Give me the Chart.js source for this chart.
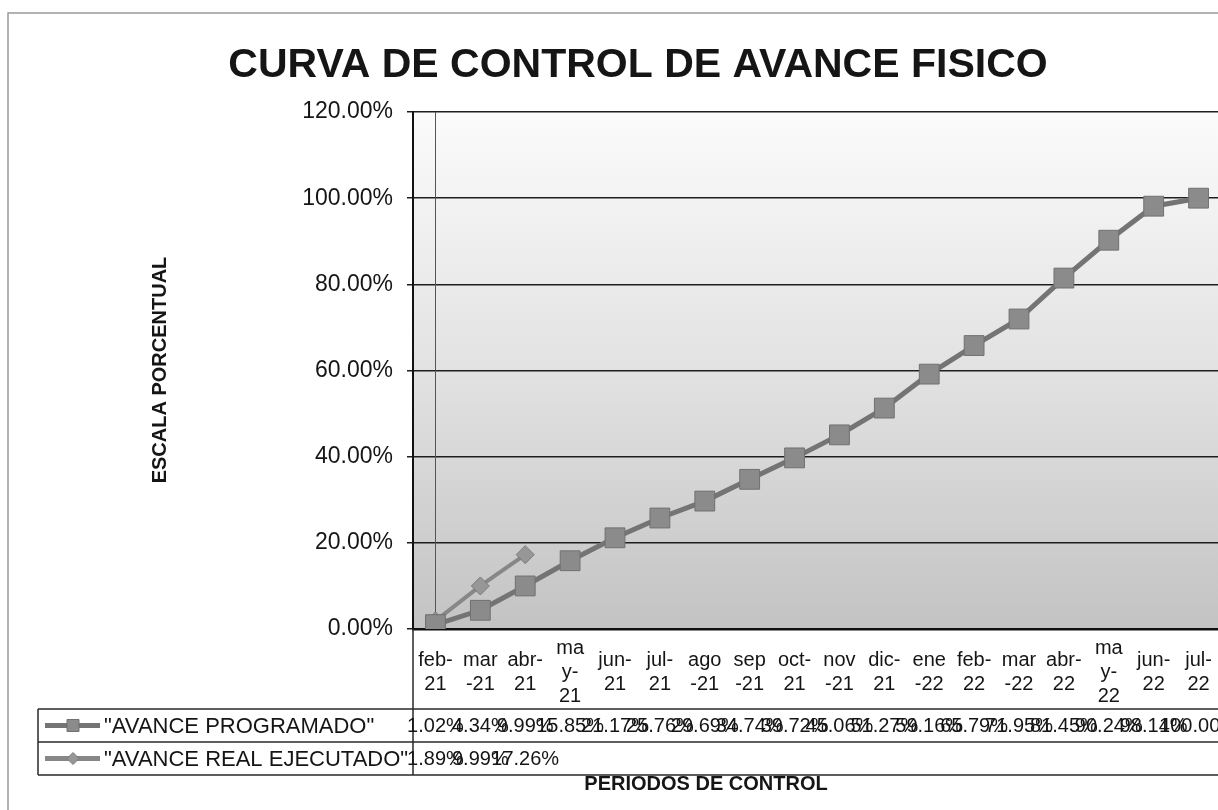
<!DOCTYPE html>
<html>
<head>
<meta charset="utf-8">
<title>Curva de control de avance fisico</title>
<script src="https://cdn.jsdelivr.net/npm/chart.js@4.4.1/dist/chart.umd.min.js"></script>
<style>
  html, body { margin: 0; padding: 0; background: #fff; overflow: hidden; }
  #wrap { width: 1218px; height: 810px; overflow: hidden; }
  canvas { display: block; }
</style>
</head>
<body>
<div id="wrap"><canvas id="avanceChart" width="1240" height="810"></canvas></div>
<script>
const periodos = [
  ["feb-", "21"], ["mar", "-21"], ["abr-", "21"], ["ma", "y-", "21"], ["jun-", "21"], ["jul-", "21"],
  ["ago", "-21"], ["sep", "-21"], ["oct-", "21"], ["nov", "-21"], ["dic-", "21"], ["ene", "-22"],
  ["feb-", "22"], ["mar", "-22"], ["abr-", "22"], ["ma", "y-", "22"], ["jun-", "22"], ["jul-", "22"]
];
const avanceProgramado = [1.02, 4.34, 9.99, 15.85, 21.17, 25.76, 29.69, 34.74, 39.72, 45.06, 51.27, 59.16, 65.79, 71.95, 81.45, 90.24, 98.14, 100.00];
const avanceReal = [1.89, 9.99, 17.26];
const yTicks = [0, 20, 40, 60, 80, 100, 120];

const serieNames = ['"AVANCE PROGRAMADO"', '"AVANCE REAL EJECUTADO"'];
const FONT = "'Liberation Sans', Arial, sans-serif";
const INK = "#151515";

function pct(v) {
  return v.toFixed(2) + "%";
}

// table under the plot, titles and the sheet frame
const sheetPlugin = {
  id: "sheet",
  beforeDraw(chart) {
    const { ctx, chartArea: a } = chart;
    ctx.save();
    ctx.strokeStyle = "#9a9a9a";
    ctx.lineWidth = 1.5;
    ctx.beginPath();
    ctx.moveTo(8, 810);
    ctx.lineTo(8, 13);
    ctx.lineTo(1240, 13);
    ctx.stroke();

    const g = ctx.createLinearGradient(0, a.top, 0, a.bottom);
    g.addColorStop(0, "#fbfbfb");
    g.addColorStop(0.5, "#e2e2e2");
    g.addColorStop(1, "#c3c3c3");
    ctx.fillStyle = g;
    ctx.fillRect(a.left, a.top, a.right - a.left, a.bottom - a.top);
    ctx.restore();
  },
  beforeDatasetsDraw(chart) {
    const { ctx, chartArea: a, scales } = chart;
    const x0 = Math.round(scales.x.getPixelForValue(0)) + 0.5;
    ctx.save();
    ctx.strokeStyle = "#555";
    ctx.lineWidth = 1;
    ctx.beginPath();
    ctx.moveTo(x0, a.top);
    ctx.lineTo(x0, a.bottom);
    ctx.stroke();
    ctx.restore();
  },
  afterDraw(chart) {
    const { ctx, chartArea: a, scales } = chart;
    ctx.save();

    ctx.fillStyle = INK;
    ctx.textAlign = "center";
    ctx.textBaseline = "middle";
    ctx.font = "bold 41px " + FONT;
    ctx.fillText("CURVA DE CONTROL DE AVANCE FISICO", 638, 66);

    ctx.save();
    ctx.translate(160, 370);
    ctx.rotate(-Math.PI / 2);
    ctx.font = "bold 20px " + FONT;
    ctx.fillText("ESCALA PORCENTUAL", 0, 0);
    ctx.restore();

    // data table
    const rows = [709, 742, 775];
    ctx.strokeStyle = "#2a2a2a";
    ctx.lineWidth = 1.5;
    ctx.beginPath();
    rows.forEach((y) => {
      ctx.moveTo(38, y);
      ctx.lineTo(1240, y);
    });
    ctx.moveTo(38, rows[0]);
    ctx.lineTo(38, rows[2]);
    ctx.moveTo(a.left, a.bottom);
    ctx.lineTo(a.left, rows[2]);
    ctx.stroke();

    const series = [avanceProgramado, avanceReal];
    series.forEach((values, r) => {
      const cy = (rows[r] + rows[r + 1]) / 2;
      const ds = chart.data.datasets[r];

      ctx.strokeStyle = ds.borderColor;
      ctx.lineWidth = 5;
      ctx.beginPath();
      ctx.moveTo(45, cy);
      ctx.lineTo(100, cy);
      ctx.stroke();

      ctx.fillStyle = ds.pointBackgroundColor;
      ctx.strokeStyle = ds.pointBorderColor;
      ctx.lineWidth = 1;
      ctx.beginPath();
      if (r === 0) {
        ctx.rect(67, cy - 6, 12, 12);
      } else {
        ctx.moveTo(73, cy - 6);
        ctx.lineTo(79, cy);
        ctx.lineTo(73, cy + 6);
        ctx.lineTo(67, cy);
        ctx.closePath();
      }
      ctx.fill();
      ctx.stroke();

      ctx.fillStyle = INK;
      ctx.font = "22px " + FONT;
      ctx.textAlign = "left";
      ctx.fillText(serieNames[r], 104, cy + 1);

      ctx.font = "20px " + FONT;
      ctx.textAlign = "center";
      values.forEach((v, i) => {
        ctx.fillText(pct(v), scales.x.getPixelForValue(i), cy + 1);
      });
    });

    ctx.font = "bold 20px " + FONT;
    ctx.textAlign = "center";
    ctx.fillText("PERIODOS DE CONTROL", 706, 784);

    ctx.restore();
  }
};

const ctx = document.getElementById("avanceChart").getContext("2d");

new Chart(ctx, {
  type: "line",
  data: {
    labels: periodos,
    datasets: [
      {
        label: serieNames[0],
        data: avanceProgramado,
        borderColor: "#747474",
        borderWidth: 5,
        pointStyle: "rect",
        pointRadius: 14,
        pointBackgroundColor: "#8b8b8b",
        pointBorderColor: "#707070",
        pointBorderWidth: 1,
        tension: 0
      },
      {
        label: serieNames[1],
        data: avanceReal,
        borderColor: "#878787",
        borderWidth: 4,
        pointStyle: "rectRot",
        pointRadius: 9,
        pointBackgroundColor: "#979797",
        pointBorderColor: "#7a7a7a",
        pointBorderWidth: 1,
        tension: 0
      }
    ]
  },
  options: {
    responsive: false,
    devicePixelRatio: 1,
    animation: false,
    layout: {
      padding: { top: 112, left: 150, right: 19, bottom: 0 }
    },
    plugins: {
      legend: { display: false },
      tooltip: { enabled: false }
    },
    scales: {
      x: {
        offset: true,
        afterFit: (scale) => { scale.height = 181; },
        grid: { display: false, drawTicks: false },
        border: { display: true, color: "#111", width: 2.5 },
        ticks: {
          autoSkip: false,
          maxRotation: 0,
          minRotation: 0,
          crossAlign: "center",
          padding: 19,
          color: INK,
          font: { family: FONT, size: 20, lineHeight: 1.2 }
        }
      },
      y: {
        min: 0,
        max: 120,
        afterFit: (scale) => { scale.width = 263; },
        afterBuildTicks: (scale) => { scale.ticks = yTicks.map((v) => ({ value: v })); },
        grid: { color: "#1e1e1e", lineWidth: 1.5, drawTicks: true, tickLength: 6 },
        border: { display: true, color: "#111", width: 2 },
        ticks: {
          padding: 14,
          color: INK,
          font: { family: FONT, size: 23 },
          callback: (v) => pct(v)
        }
      }
    }
  },
  plugins: [sheetPlugin]
});
</script>
</body>
</html>
